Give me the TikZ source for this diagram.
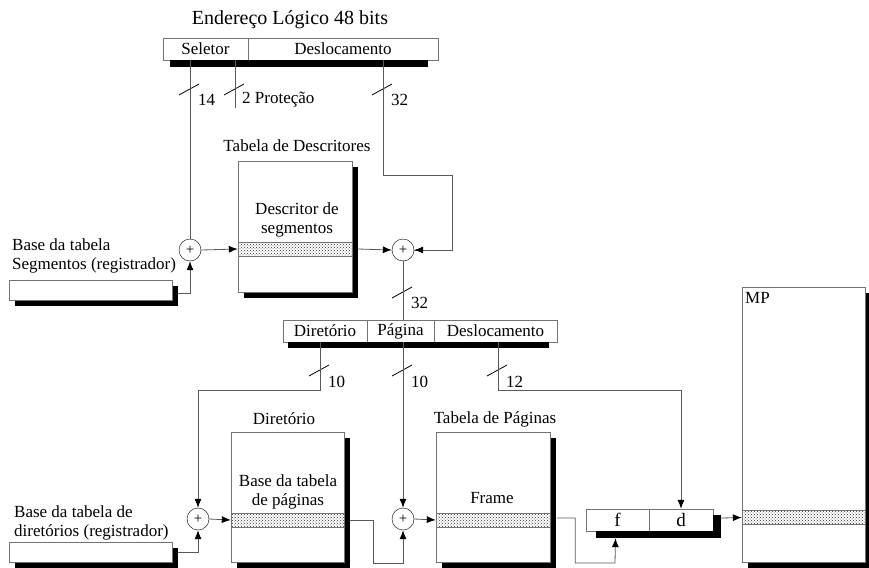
\documentclass[tikz,border=0pt]{standalone}
\usepackage{fontspec}
\setmainfont{Liberation Serif}
\newfontfamily\tnr{Liberation Serif}
\usetikzlibrary{arrows.meta,positioning,calc,patterns,shadows}

\begin{document}
\begin{tikzpicture}[x=1pt, y=-1pt,
    txt/.style={font=\tnr\fontsize{17}{19.5}\selectfont, inner sep=0pt, align=left},
    field/.style={draw=black!55, fill=white, minimum height=22pt, inner sep=0pt, font=\tnr\fontsize{17}{19}\selectfont},
    regbox/.style={draw=black!55, fill=white, minimum height=20pt, minimum width=163pt, inner sep=0pt,
      drop shadow={fill=black, opacity=1, shadow xshift=6pt, shadow yshift=-6pt}},
    tab/.style={draw=black!55, fill=white, inner sep=0pt,
      drop shadow={fill=black, opacity=1, shadow xshift=6pt, shadow yshift=-6pt}},
    band/.style={draw=black!55, pattern=crosshatch dots, pattern color=black!80, minimum height=14pt, inner sep=0pt},
    adder/.style={circle, draw, fill=white, minimum size=22pt, inner sep=0pt, font=\tnr\fontsize{15}{15}\selectfont},
    wire/.style={draw=black!65, line width=0.8pt},
    arr/.style={wire, -{Latex[length=9pt, width=7pt, color=black]}},
    slash/.style={draw=black, line width=0.8pt},
  ]
  \useasboundingbox (0,0) rectangle (869,567);

  % Logical address
  \node[txt, font=\tnr\fontsize{20}{22}\selectfont] (title) at (290,20) {Endereço Lógico 48 bits};
  \node[field, minimum width=85pt]  (sel)  at (205.5,49) {Seletor};
  \node[field, minimum width=190pt] (desl) at (343,49)   {Deslocamento};
  \fill ($(sel.south west)+(7,0)$) rectangle ($(desl.south east)+(-10,7)$);

  % Segment table
  \node[txt] (ttit) at (297,146) {Tabela de Descritores};
  \node[tab, minimum width=114pt, minimum height=131pt] (tdesc) at (295,226.5) {};
  \node[band, minimum width=114pt] (bdesc) at (295,249) {};
  \node[txt, align=center] (tdtxt) at (297,220) {Descritor de\\segmentos};
  \node[txt] (rsegtxt) at (12,256) [anchor=west] {Base da tabela\\Segmentos (registrador)};
  \node[regbox] (rseg) at (90.5,290) {};
  \node[adder] (a1) at (190,250) {+};
  \node[adder] (a2) at (403,250) {+};

  % Linear address
  \node[field, minimum width=84pt]  (dir) at (325,331)   {Diretório};
  \node[field, minimum width=67pt]  (pag) at (400.5,331) {Página};
  \node[field, minimum width=123pt] (off) at (495.5,331) {Deslocamento};
  \fill ($(dir.south west)+(5,0)$) rectangle ($(off.south east)+(-8,6)$);

  % Paging
  \node[txt] (dtit) at (284,419) {Diretório};
  \node[tab, minimum width=113pt, minimum height=130pt] (tdir) at (287.5,497) {};
  \node[band, minimum width=113pt] (bdir) at (287.5,520) {};
  \node[txt, align=center] (bdtxt) at (288,492) {Base da tabela\\de páginas};
  \node[txt] (ptit) at (495,419) {Tabela de Páginas};
  \node[tab, minimum width=114pt, minimum height=130pt] (tpag) at (493,497) {};
  \node[band, minimum width=114pt] (bpag) at (493,520) {};
  \node[txt] (frtxt) at (492,498) {Frame};
  \node[txt] (rdirtxt) at (14,523) [anchor=west] {Base da tabela de\\diretórios (registrador)};
  \node[regbox] (rdir) at (90.5,552) {};
  \node[adder] (a3) at (198,519) {+};
  \node[adder] (a4) at (403,519) {+};

  % Physical address and memory
  \node[field, minimum width=63pt, font=\tnr\fontsize{19}{19}\selectfont] (ff) at (617.5,520) {\raisebox{-7pt}{f}};
  \node[field, minimum width=64pt, font=\tnr\fontsize{19}{19}\selectfont] (fd) at (681,520)   {\raisebox{-7pt}{d}};
  \fill ($(ff.south west)+(10,0)$) rectangle ($(fd.south east)+(8,7)$);
  \fill ($(fd.north east)+(0,6)$) rectangle ($(fd.south east)+(8,7)$);
  \node[tab, minimum width=123pt, minimum height=275pt] (mp) at (803.5,424.5) {};
  \node[band, minimum width=123pt] (bmp) at (803.5,517.5) {};
  \node[txt] (mptxt) at (745,292) [anchor=north west] {MP};

  % Bit fields
  \coordinate (s14) at (190,89);
  \coordinate (s2)  at (235,89);
  \coordinate (s32) at (383,89);
  \coordinate (s32b) at (403,292);
  \coordinate (s10a) at (320,370);
  \coordinate (s10b) at (403,370);
  \coordinate (s12) at (498,370);
  \foreach \s in {s14,s2,s32,s32b,s10a,s10b,s12}
    \draw[slash] ($(\s)+(-11,6)$) -- ++(20,-11);
  \node[txt, anchor=west] (l14)  at (198,100) {14};
  \node[txt, anchor=west] (l2)   at (242,100) {2 Proteção};
  \node[txt, anchor=west] (l32)  at (391,100) {32};
  \node[txt, anchor=west] (l32b) at (411,303) {32};
  \node[txt, anchor=west] (l10a) at (328,382) {10};
  \node[txt, anchor=west] (l10b) at (411,382) {10};
  \node[txt, anchor=west] (l12)  at (506,382) {12};

  % Connectors
  \draw[wire] (sel.south -| a1) -- (a1.north);
  \draw[wire] (sel.south -| s2) -- ++(0,48);
  \draw[wire] (desl.south -| s32) |- (452,175) |- (a2.east);
  \draw[arr] (a2.east -| 452,0) -- (a2.east);
  \draw[arr] ([shift={(6,3)}]rseg.east) -| (a1.south);
  \draw[arr] (a1.east) -- (bdesc.west);
  \draw[arr] ([xshift=6pt]bdesc.east) -- (a2.west);
  \draw[wire] (a2.south) -- (pag.north -| a2);

  \draw[arr] (dir.south -| s10a) |- (198,390) -- (a3.north);
  \draw[arr] (pag.south -| s10b) -- (a4.north);
  \draw[arr] (off.south -| s12) |- (681,390) -- (fd.north);
  \draw[arr] ([xshift=6pt]rdir.east) -| (a3.south);
  \draw[arr] (a3.east) -- (bdir.west);
  \draw[arr] ([xshift=6pt]bdir.east) -- ++(23,0) |- (403,563) -- (a4.south);
  \draw[arr] (a4.east) -- (bpag.west);
  \draw[arr] ([shift={(7,-2)}]bpag.east) -- ++(18,0) |- (615,563) -- ([shift={(-2,7)}]ff.south);
  \draw[arr] ([shift={(8,-2)}]fd.east) -- (mp.west |- bmp);
\end{tikzpicture}
\end{document}
